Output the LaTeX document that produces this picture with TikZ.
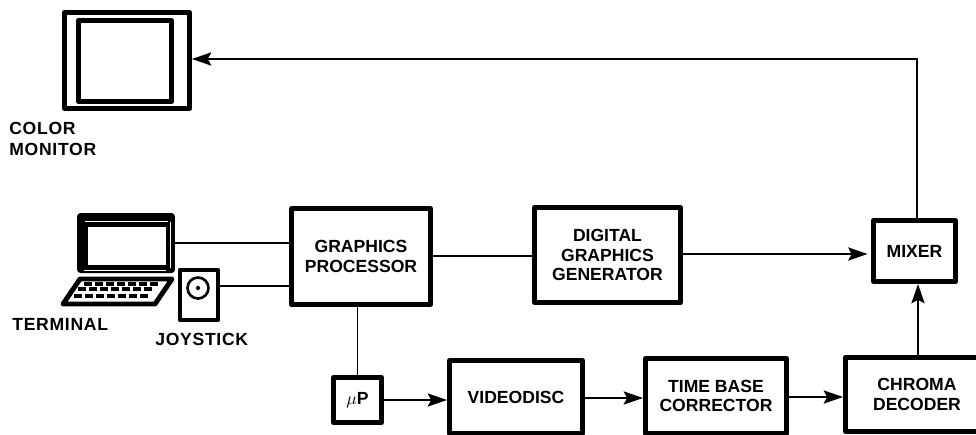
\documentclass[tikz,border=0pt]{standalone}
\usepackage{fontspec}
\setmainfont{Liberation Sans}
\usetikzlibrary{arrows.meta, calc}
\tikzset{
    x=0.02cm, y=-0.02cm,
    blockbox/.style={draw, line width=2.8pt, line join=round, inner sep=0pt, align=center,
        font=\fontsize{10}{11.2}\selectfont\bfseries},
    blocktext/.style={align=left, inner sep=0pt, font=\fontsize{10}{11.8}\selectfont\bfseries\addfontfeature{LetterSpace=4}},
    wire/.style={line width=1.1pt},
    flow/.style={wire, -{Stealth[length=11pt, width=7.5pt, inset=2pt]}},
}
\newcommand{\blockat}[6]{%
    \node[blockbox, minimum width=(#4-#2)*0.569pt-2.8pt, minimum height=(#5-#3)*0.569pt-2.8pt, anchor=north west] (#1) at (#2,#3) {#6};
}
\begin{document}
\begin{tikzpicture}
    \useasboundingbox (0,0) rectangle (976,434);
    %blocks
    \blockat{graphics}{289}{206}{433}{307}{GRAPHICS\\PROCESSOR}
    \blockat{digital}{532}{205}{683}{305}{DIGITAL\\GRAPHICS\\GENERATOR}
    \blockat{mixer}{871}{218}{958}{284}{MIXER}
    \blockat{micro}{331}{375}{384}{425}{$\mu$P}
    \blockat{videodisc}{447}{358}{585}{436}{VIDEODISC}
    \blockat{timebase}{643}{356}{789}{436}{TIME BASE\\CORRECTOR}
    \blockat{chroma}{843}{355}{991}{434}{CHROMA\\DECODER}
    %monitor
    \blockat{monitor}{62}{10}{192}{111}{}
    \blockat{screen}{76}{18}{174}{104}{}
    %terminal
    \node[fill=black, rounded corners=2pt, inner sep=0pt, outer sep=0pt, minimum width=98*0.569pt, minimum height=60*0.569pt] (terminal) at (126,243) {};
    \node[fill=white, inner sep=0pt, minimum width=78*0.569pt, minimum height=38*0.569pt] (window) at (127,246) {};
    \draw[white, line width=0.4pt] (85,221) -- (168,221);
    \draw[white, line width=0.4pt] (170,222) -- (170,268);
    \draw[white, line width=0.4pt] (84,270) -- (166,270);
    \draw[line width=2.8pt, line join=round] (80,279) -- (172,279) -- (155,304) -- (63,304) -- cycle;
    \foreach \rowy/\rowx in {284/84, 289/78, 296/74}{
        \foreach \i in {0,...,6}{
            \draw[line width=1.8pt] ($(\rowx,\rowy)+(\i*11,0)$) -- ++(7.5,0);
        }
    }
    %joystick
    \node[draw, line width=2.4pt, line join=round, inner sep=0pt, minimum width=38*0.569pt, minimum height=50*0.569pt] (joystick) at (199,295) {};
    \node[draw, circle, line width=1.5pt, inner sep=0pt, minimum size=21*0.569pt] (knob) at (198,288) {};
    \fill (knob.center) circle (1.2pt);
    %labels
    \node[blocktext, anchor=north west] (colorlabel) at (9,122) {COLOR\\MONITOR};
    \node[blocktext, anchor=west] (terminallabel) at (12,324) {TERMINAL};
    \node[blocktext, anchor=west] (joysticklabel) at (155,339) {JOYSTICK};
    %connections
    \coordinate (termout) at (terminal.east |- 0,243);
    \coordinate (termin) at (graphics.west |- termout);
    \coordinate (joyout) at (joystick.east |- 0,286);
    \coordinate (joyin) at (graphics.west |- joyout);
    \draw[wire] (termout) -- (termin);
    \draw[wire] (joyout) -- (joyin);
    \draw[wire] (graphics.east |- 0,256) -- (digital.west |- 0,256);
    \draw[wire] (micro.north) -- (micro.north |- graphics.south);
    \coordinate (mixerout) at (mixer.north -| 917,0);
    \coordinate (corner) at (917,59);
    \draw[flow, shorten >=2pt] (digital.east |- 0,254) -- (mixer.west |- 0,254);
    \draw[flow] (micro.east |- 0,400) -- (videodisc.west |- 0,400);
    \draw[flow] (videodisc.east |- 0,398) -- (timebase.west |- 0,398);
    \draw[flow] (timebase.east |- 0,397) -- (chroma.west |- 0,397);
    \draw[flow] (chroma.north -| 918,0) -- (mixer.south -| 918,0);
    \draw[flow] (mixerout) -- (corner) -- (monitor.east |- corner);
\end{tikzpicture}
\end{document}
